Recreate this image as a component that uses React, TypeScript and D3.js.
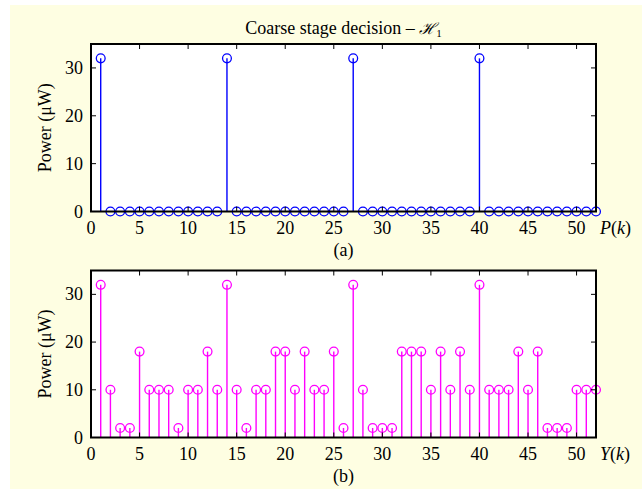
import { useRef, useEffect } from "react";
import * as d3 from "d3";

// sample index k = 1..52
const indices: number[] = d3.range(1, 53);

// top panel (a): P(k) in microwatts
const powerP: number[] = [
  32, 0, 0, 0, 0, 0, 0, 0, 0, 0, 0, 0, 0,
  32, 0, 0, 0, 0, 0, 0, 0, 0, 0, 0, 0, 0,
  32, 0, 0, 0, 0, 0, 0, 0, 0, 0, 0, 0, 0,
  32, 0, 0, 0, 0, 0, 0, 0, 0, 0, 0, 0, 0,
];

// bottom panel (b): Y(k) in microwatts
const powerY: number[] = [
  32, 10, 2, 2, 18, 10, 10, 10, 2, 10, 10, 18, 10,
  32, 10, 2, 10, 10, 18, 18, 10, 18, 10, 10, 18, 2,
  32, 10, 2, 2, 2, 18, 18, 18, 10, 18, 10, 18, 10,
  32, 10, 10, 10, 18, 10, 18, 2, 2, 2, 10, 10, 10,
];

const xTicks: number[] = [0, 5, 10, 15, 20, 25, 30, 35, 40, 45, 50];
const yTicks: number[] = [0, 10, 20, 30];

const W = 644;
const H = 492;
const FONT = "'Liberation Serif', 'Times New Roman', serif";
const FS = 18;

const App = () => {
  const svgRef = useRef<SVGSVGElement | null>(null);

  useEffect(() => {
    const svg = d3.select(svgRef.current);
    svg.selectAll("*").remove();

    // white page with a pale yellow figure background
    svg.append("rect").attr("width", W).attr("height", H).attr("fill", "#ffffff");
    svg.append("rect")
      .attr("x", 10).attr("y", 5)
      .attr("width", W - 12).attr("height", H - 8)
      .attr("fill", "#fefee2");

    const left = 91;
    const right = 596;

    const x = d3.scaleLinear().domain([0, 52]).range([left, right]);

    const panels = [
      { top: 44, bottom: 211.5, values: powerP, color: "#0000ff", xlab: "P", cap: "(a)" },
      { top: 270.5, bottom: 437.5, values: powerY, color: "#ff00ff", xlab: "Y", cap: "(b)" },
    ];

    // title
    const title = svg.append("text")
      .attr("x", (left + right) / 2)
      .attr("y", 34)
      .attr("text-anchor", "middle")
      .attr("font-family", FONT)
      .attr("font-size", FS)
      .attr("fill", "#000");
    title.append("tspan").text("Coarse stage decision \u2013 ");
    title.append("tspan").attr("font-style", "italic").attr("font-family", "'DejaVu Serif', serif").attr("font-size", 16).text("\u210B");
    title.append("tspan").attr("font-size", 11).attr("dy", 3).text("1");

    panels.forEach((p) => {
      const y = d3.scaleLinear().domain([0, 35]).range([p.bottom, p.top]);
      const g = svg.append("g");

      // plot area
      g.append("rect")
        .attr("x", left).attr("y", p.top)
        .attr("width", right - left).attr("height", p.bottom - p.top)
        .attr("fill", "#ffffff");

      // stems
      g.selectAll(".stem")
        .data(p.values)
        .join("line")
        .attr("x1", (_, i) => x(indices[i]))
        .attr("x2", (_, i) => x(indices[i]))
        .attr("y1", y(0))
        .attr("y2", (d) => y(d))
        .attr("stroke", p.color)
        .attr("stroke-width", 1.4);

      // markers
      g.selectAll(".mark")
        .data(p.values)
        .join("circle")
        .attr("cx", (_, i) => x(indices[i]))
        .attr("cy", (d) => y(d))
        .attr("r", 4.4)
        .attr("fill", "none")
        .attr("stroke", p.color)
        .attr("stroke-width", 1.3);

      // inward ticks, bottom/top and left/right
      const tk = 5;
      xTicks.forEach((t) => {
        g.append("line").attr("x1", x(t)).attr("x2", x(t))
          .attr("y1", p.bottom).attr("y2", p.bottom - tk)
          .attr("stroke", "#000").attr("stroke-width", 1);
        g.append("line").attr("x1", x(t)).attr("x2", x(t))
          .attr("y1", p.top).attr("y2", p.top + tk)
          .attr("stroke", "#000").attr("stroke-width", 1);
        g.append("text")
          .attr("x", x(t)).attr("y", p.bottom + 22)
          .attr("text-anchor", "middle")
          .attr("font-family", FONT).attr("font-size", FS)
          .text(t);
      });
      yTicks.forEach((t) => {
        g.append("line").attr("x1", left).attr("x2", left + tk)
          .attr("y1", y(t)).attr("y2", y(t))
          .attr("stroke", "#000").attr("stroke-width", 1);
        g.append("line").attr("x1", right).attr("x2", right - tk)
          .attr("y1", y(t)).attr("y2", y(t))
          .attr("stroke", "#000").attr("stroke-width", 1);
        g.append("text")
          .attr("x", left - 8).attr("y", y(t) + 6)
          .attr("text-anchor", "end")
          .attr("font-family", FONT).attr("font-size", FS)
          .text(t);
      });

      // box
      g.append("rect")
        .attr("x", left).attr("y", p.top)
        .attr("width", right - left).attr("height", p.bottom - p.top)
        .attr("fill", "none")
        .attr("stroke", "#000")
        .attr("stroke-width", 2);

      // y label
      g.append("text")
        .attr("transform", `translate(51,${(p.top + p.bottom) / 2}) rotate(-90)`)
        .attr("text-anchor", "middle")
        .attr("font-family", FONT).attr("font-size", FS)
        .text("Power (\u03bcW)");

      // x label
      const xl = g.append("text")
        .attr("x", right + 4).attr("y", p.bottom + 22)
        .attr("font-family", FONT).attr("font-size", FS);
      xl.append("tspan").attr("font-style", "italic").text(p.xlab);
      xl.append("tspan").text("(");
      xl.append("tspan").attr("font-style", "italic").text("k");
      xl.append("tspan").text(")");

      // caption
      g.append("text")
        .attr("x", (left + right) / 2).attr("y", p.bottom + 44)
        .attr("text-anchor", "middle")
        .attr("font-family", FONT).attr("font-size", FS)
        .text(p.cap);
    });
  }, []);

  return (
    <svg
      ref={svgRef}
      width={W}
      height={H}
      style={{ position: "absolute", left: 0, top: 0, display: "block" }}
    />
  );
};

export default App;
